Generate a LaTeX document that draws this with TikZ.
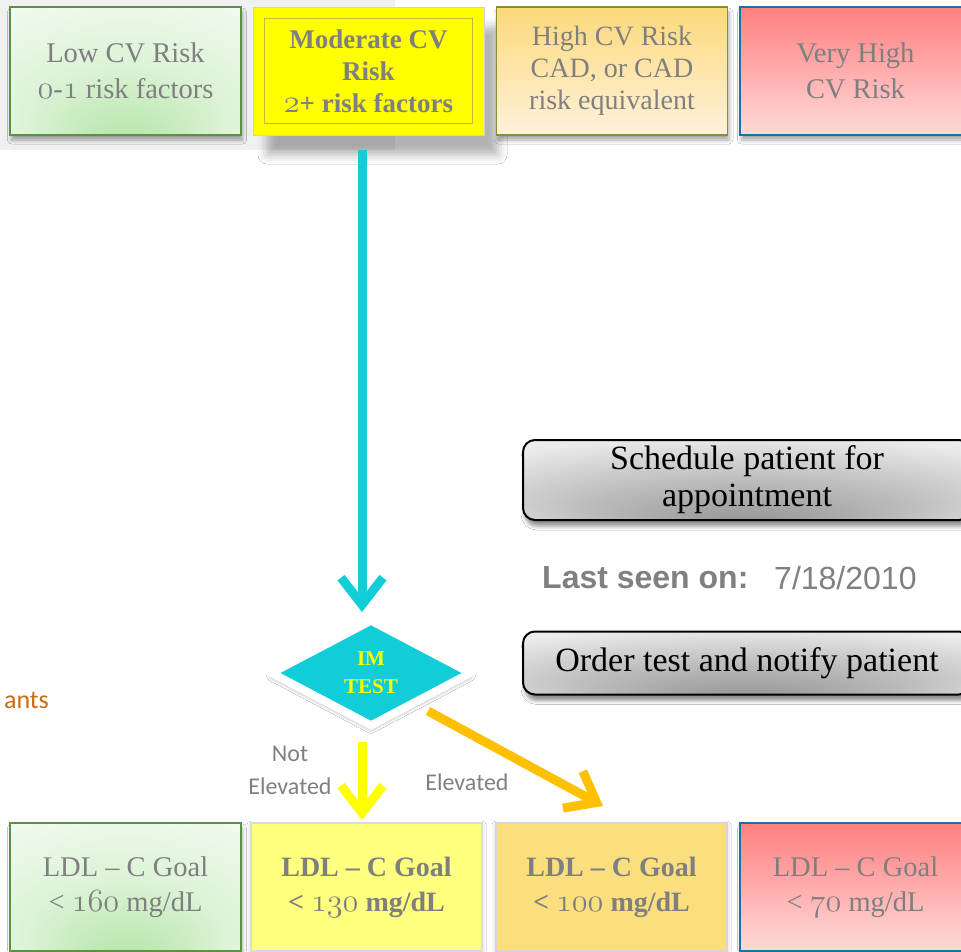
\documentclass[tikz,border=0pt]{standalone}
\usepackage{graphicx}
\usepackage{fontspec}
\setmainfont{Liberation Serif}
\newfontfamily\arialfont{Liberation Sans}
\newfontfamily\calfont{Carlito}
\usetikzlibrary{arrows.meta,shapes.geometric,shadows,shadows.blur,calc}

% old-style figures taken from the Latin Modern math italic font, set a little larger
\newcommand\osf[1]{\scalebox{1.3}{\fontencoding{OML}\fontfamily{lmm}\fontseries{m}\fontshape{it}\selectfont #1}}
\newcommand\osfb[1]{\scalebox{1.3}{\fontencoding{OML}\fontfamily{lmm}\fontseries{b}\fontshape{it}\selectfont #1}}

\definecolor{txtgrey}{HTML}{7F7F7F}
\definecolor{labgrey}{HTML}{808080}
\definecolor{panelgrey}{HTML}{F0F0F0}
\definecolor{lowborder}{HTML}{5B9142}
\definecolor{highborder}{HTML}{7F9430}
\definecolor{vhborder}{HTML}{1A72A4}
\definecolor{redtop}{HTML}{FF7F7F}
\definecolor{redbot}{HTML}{FFDADA}
\definecolor{hightop}{HTML}{FDD97A}
\definecolor{highbot}{HTML}{FFF1DB}
\definecolor{cyanc}{HTML}{10CDD8}
\definecolor{arrowyellow}{HTML}{FFFF00}
\definecolor{arroworange}{HTML}{FFC000}
\definecolor{ldlyellow}{HTML}{FFFF80}
\definecolor{ldlgold}{HTML}{FBDF7E}
\definecolor{glowA}{HTML}{B3E4A6}
\definecolor{glowB}{HTML}{DDF3D7}
\definecolor{glowC}{HTML}{F4FBF2}
\definecolor{orangetxt}{HTML}{CC6A14}

\pgfdeclareradialshading{greenglow}{\pgfpoint{0bp}{-30bp}}{%
  color(0bp)=(glowA); color(22bp)=(glowB); color(45bp)=(glowC); color(60bp)=(white)}
\pgfdeclareradialshading{greyglow}{\pgfpoint{0bp}{-28bp}}{%
  color(0bp)=(black!42); color(18bp)=(black!26); color(36bp)=(black!8); color(50bp)=(white)}

\tikzset{
  riskbox/.style={rectangle, minimum width=231pt, minimum height=128pt, inner sep=0pt,
    align=center, text=txtgrey, line width=1.6pt},
  plainfont/.style={font=\fontsize{28.5}{36}\selectfont},
  threefont/.style={font=\fontsize{28}{32}\selectfont},
  boldfont/.style={font=\bfseries\fontsize{27}{32}\selectfont},
  ldlbold/.style={font=\bfseries\fontsize{28}{35}\selectfont},
  ldlplain/.style={font=\fontsize{28.5}{35}\selectfont},
  softshadow/.style={blur shadow={shadow xshift=1.5pt, shadow yshift=-5pt,
    shadow blur radius=4pt, shadow opacity=35}},
  greenbox/.style={riskbox, shading=greenglow, draw=lowborder, softshadow},
  redbox/.style={riskbox, top color=redtop, bottom color=redbot, draw=vhborder, softshadow},
  highbox/.style={riskbox, top color=hightop, bottom color=highbot, draw=highborder, softshadow},
  greybox/.style={rectangle, rounded corners=12pt, draw=black, line width=2pt,
    shading=greyglow, minimum width=448pt, inner sep=0pt, align=center, text=black,
    font=\fontsize{34}{37}\selectfont,
    blur shadow={shadow xshift=2pt, shadow yshift=-6pt, shadow blur radius=4pt, shadow opacity=45}},
  flowarrow/.style={line width=9pt, -{Straight Barb[length=27pt, width=42pt]}},
  branchlabel/.style={text=labgrey, align=center, font=\calfont\fontsize{24}{33}\selectfont, inner sep=0pt},
}

\begin{document}
\begin{tikzpicture}[x=1pt, y=-1pt]
  \fill[white] (0,0) rectangle (961,951);
  \useasboundingbox (0,0) rectangle (961,951);
  \fill[panelgrey] (0,0) rectangle (395,150);

  % risk categories
  \node[greenbox, plainfont] (lowrisk) at (125.5,71) {Low CV Risk\\\osf{0}-\osf{1} risk factors};
  \node[riskbox, fill=arrowyellow, draw=black!18, line width=1pt, boldfont,
        blur shadow={shadow xshift=14pt, shadow yshift=-20pt, shadow blur radius=9pt, shadow opacity=30}]
        (modrisk) at (368.5,71) {Moderate CV\\Risk\\\osfb{2}+ risk factors};
  \draw[yellow!72!black, line width=1pt]
        ($(modrisk.north west)+(12,12)$) rectangle ($(modrisk.south east)+(-12,-12)$);
  \node[highbox, threefont] (highrisk) at (612,71) {High CV Risk\\CAD, or CAD\\risk equivalent};
  \node[redbox, plainfont] (vhighrisk) at (855.5,71) {Very High\\CV Risk};

  % decision
  \node[diamond, aspect=1.8, minimum width=202pt, minimum height=108pt, inner sep=0pt,
        fill=cyanc, draw=white, line width=8pt, text=arrowyellow, align=center,
        font=\bfseries\fontsize{21}{28}\selectfont,
        blur shadow={shadow xshift=0pt, shadow yshift=-3pt, shadow blur radius=5pt, shadow opacity=45}]
        (imtest) at (371,673) {IM\\TEST};

  % actions
  \node[greybox, minimum height=80pt] (schedule) at (747,480) {Schedule patient for\\appointment};
  \node[text=labgrey, font=\arialfont\bfseries\fontsize{32}{36}\selectfont, anchor=west, inner sep=0pt]
        (lastseen) at (542,578) {Last seen on:};
  \node[text=labgrey, font=\arialfont\fontsize{32}{36}\selectfont, anchor=west, inner sep=0pt]
        (lastdate) at (774,578) {7/18/2010};
  \node[greybox, minimum height=63pt] (ordertest) at (747,663) {Order test and notify patient};

  \node[text=orangetxt, font=\calfont\fontsize{26}{30}\selectfont, anchor=east, inner sep=0pt]
        (trail) at (49,700) {ants};

  % LDL goals
  \node[greenbox, ldlplain] (ldllow) at (125.5,887) {LDL -- C Goal\\\textless{} \osf{160} mg/dL};
  \node[riskbox, fill=ldlyellow, draw=black!14, line width=1.5pt, ldlbold,
        blur shadow={shadow xshift=0pt, shadow yshift=-2pt, shadow blur radius=4pt, shadow opacity=25}]
        (ldlmod) at (366.5,887) {LDL -- C Goal\\\textless{} \osfb{130} mg/dL};
  \node[riskbox, fill=ldlgold, draw=black!16, line width=1.5pt, ldlbold,
        blur shadow={shadow xshift=0pt, shadow yshift=-2pt, shadow blur radius=4pt, shadow opacity=25}]
        (ldlhigh) at (611.5,887) {LDL -- C Goal\\\textless{} \osfb{100} mg/dL};
  \node[redbox, ldlplain] (ldlvhigh) at (855.5,887) {LDL -- C Goal\\\textless{} \osf{70} mg/dL};

  % connectors
  \coordinate (cyanfrom) at (362,150);
  \coordinate (cyanto) at (362,612);
  \coordinate (notfrom) at (362,742);
  \coordinate (notto) at (362,820);
  \coordinate (elevfrom) at (428,711);
  \coordinate (elevto) at (603,806);
  \draw[flowarrow, cyanc] (cyanfrom) -- (cyanto);
  \draw[flowarrow, arrowyellow] (notfrom) -- (notto);
  \draw[flowarrow, arroworange] (elevfrom) -- (elevto);

  \node[branchlabel] (notlab) at (290,770) {Not\\Elevated};
  \node[branchlabel] (elevlab) at (467,782) {Elevated};
\end{tikzpicture}
\end{document}
